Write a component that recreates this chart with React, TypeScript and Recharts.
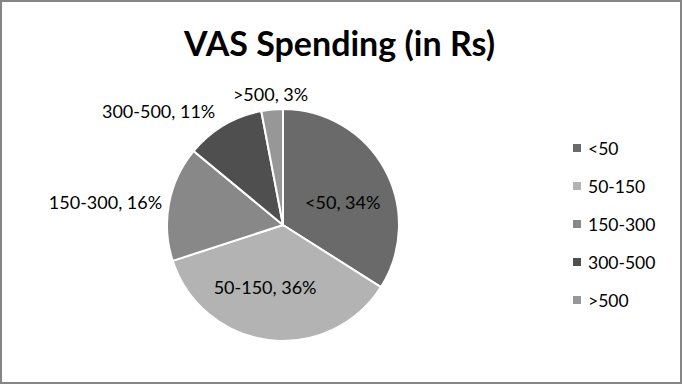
import React from 'react';
import { PieChart, Pie, Cell, Legend } from 'recharts';

const categories = ['<50', '50-150', '150-300', '300-500', '>500'];
const shares = [34, 36, 16, 11, 3];

const sliceColors = ['#6a6a6a', '#b3b3b3', '#888888', '#4f4f4f', '#979797'];

// where Excel put each label: radius from centre and text anchor
const labelPlacement = [
  { r: 64, anchor: 'middle', angle: 21 },
  { r: 65, anchor: 'middle', angle: -106 },
  { r: 123, anchor: 'end', angle: null },
  { r: 133, anchor: 'end', angle: null },
  { r: 132, anchor: 'middle', angle: null },
];

const chartData = categories.map((name, i) => ({ name, value: shares[i] }));

const FONT = 'Lato, "Open Sans", sans-serif';
const RAD = Math.PI / 180;

function renderLabel(props: any) {
  const { cx, cy, midAngle, index, payload } = props;
  const p = labelPlacement[index];
  const a = p.angle ?? midAngle;
  const x = cx + p.r * Math.cos(a * RAD);
  const y = cy - p.r * Math.sin(a * RAD);
  return (
    <text
      x={x}
      y={y}
      textAnchor={p.anchor}
      dominantBaseline="central"
      fill="#000"
      fontSize={18}
      fontFamily={FONT}
    >
      {`${payload.name}, ${payload.value}%`}
    </text>
  );
}

function LegendContent(props: any) {
  const items = [...(props.payload || [])].sort(
    (a: any, b: any) => categories.indexOf(a.value) - categories.indexOf(b.value)
  );
  return (
    <div style={{ fontFamily: FONT, fontSize: 17.5, color: '#000' }}>
      {items.map((entry: any) => (
        <div
          key={entry.value}
          style={{ display: 'flex', alignItems: 'center', height: 38 }}
        >
          <span
            style={{
              display: 'inline-block',
              width: 8,
              height: 8,
              background: entry.color,
              marginRight: 7,
            }}
          />
          <span>{entry.value}</span>
        </div>
      ))}
    </div>
  );
}

export default function App() {
  return (
    <div
      style={{
        position: 'absolute',
        left: 0,
        top: 0,
        width: 682,
        height: 384,
        boxSizing: 'border-box',
        border: '2px solid #868686',
        background: '#fff',
      }}
    >
      <div
        style={{
          position: 'absolute',
          left: 0,
          width: 675,
          top: 20,
          textAlign: 'center',
          fontFamily: FONT,
          fontWeight: 700,
          fontSize: 34,
          color: '#000',
        }}
      >
        VAS Spending (in Rs)
      </div>
      <PieChart
        width={678}
        height={380}
        margin={{ top: 0, right: 0, bottom: 0, left: 0 }}
        style={{ position: 'absolute', left: 0, top: 0 }}
      >
        <Pie
          data={chartData}
          dataKey="value"
          nameKey="name"
          cx={281}
          cy={223}
          outerRadius={116}
          startAngle={90}
          endAngle={-270}
          stroke="#fff"
          strokeWidth={2}
          label={renderLabel}
          labelLine={false}
          isAnimationActive={false}
        >
          {chartData.map((d, i) => (
            <Cell key={d.name} fill={sliceColors[i]} />
          ))}
        </Pie>
        <Legend
          layout="vertical"
          content={<LegendContent />}
          wrapperStyle={{ left: 571, top: 127, width: 105 }}
        />
      </PieChart>
    </div>
  );
}
